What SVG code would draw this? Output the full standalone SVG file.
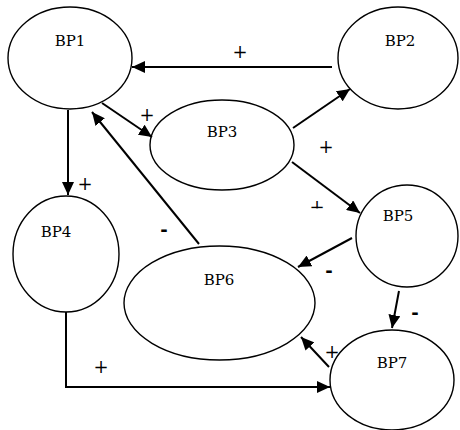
<svg xmlns="http://www.w3.org/2000/svg" width="460" height="430" viewBox="0 0 460 430">
<style>
.node ellipse{fill:#fff;stroke:#000;stroke-width:1.4}
.edges line,.edges polyline{stroke:#000;stroke-width:2;fill:none;marker-end:url(#arr)}
</style>
<defs>
<marker id="arr" markerUnits="userSpaceOnUse" markerWidth="14" markerHeight="12" refX="13" refY="6" orient="auto">
<path d="M0,0 L13,6 L0,12 Z" fill="#000"/>
</marker>
<clipPath id="cut"><rect x="300" y="190" width="40" height="18.4"/></clipPath>
</defs>
<rect width="460" height="430" fill="#fff"/>
<g style="font-family:'DejaVu Serif',serif;font-size:15px" text-anchor="middle" fill="#000">
<g id="BP1" class="node"><ellipse cx="70" cy="58" rx="62" ry="51"/><text x="70" y="46">BP1</text></g>
<g id="BP2" class="node"><ellipse cx="398" cy="58" rx="60" ry="51"/><text x="400" y="46">BP2</text></g>
<g id="BP3" class="node"><ellipse cx="222" cy="145" rx="72" ry="45"/><text x="222" y="137">BP3</text></g>
<g id="BP4" class="node"><ellipse cx="66" cy="254" rx="53" ry="58"/><text x="56" y="237">BP4</text></g>
<g id="BP5" class="node"><ellipse cx="407" cy="236" rx="51" ry="51"/><text x="398" y="221">BP5</text></g>
<g id="BP6" class="node"><ellipse cx="219.5" cy="303" rx="95.5" ry="57"/><text x="219" y="285">BP6</text></g>
<g id="BP7" class="node"><ellipse cx="392" cy="380" rx="62" ry="50"/><text x="392" y="368">BP7</text></g>
</g>
<g id="edges" class="edges">
<line x1="332" y1="67" x2="132" y2="67"/>
<line x1="102" y1="103" x2="152" y2="137"/>
<line x1="68" y1="110" x2="68" y2="195"/>
<line x1="199" y1="244" x2="92" y2="112"/>
<line x1="293" y1="128" x2="350" y2="89"/>
<line x1="292" y1="162" x2="360" y2="213"/>
<line x1="352" y1="238" x2="298" y2="267"/>
<line x1="399" y1="291" x2="392" y2="328"/>
<line x1="329" y1="367" x2="301" y2="337"/>
<polyline points="66,312 66,387 330,387"/>
</g>
<g id="labels" fill="#000" text-anchor="middle">
<g style="font-family:'DejaVu Serif',serif;font-size:18px">
<text x="240" y="58">+</text>
<text x="147" y="121">+</text>
<text x="85" y="190">+</text>
<text x="326" y="153">+</text>
<text x="317" y="213" clip-path="url(#cut)">+</text>
<text x="332" y="358">+</text>
<text x="101" y="373">+</text>
</g>
<g style="font-family:'DejaVu Sans',sans-serif;font-size:18px;font-weight:bold">
<text x="164" y="236">-</text>
<text x="329" y="277">-</text>
<text x="415" y="319">-</text>
</g>
</g>
</svg>
